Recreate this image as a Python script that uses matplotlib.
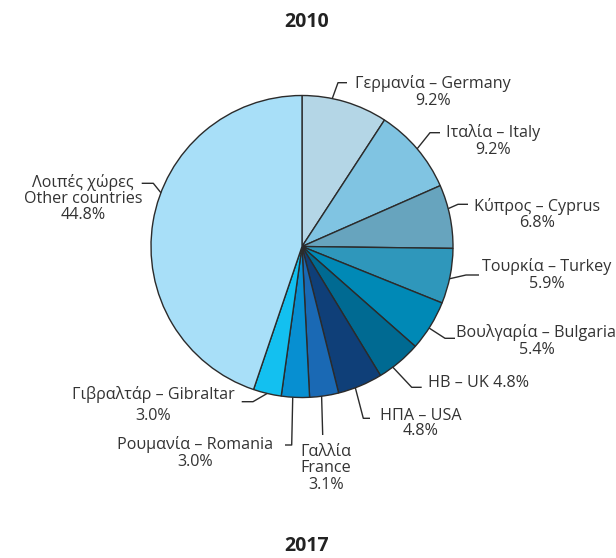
import numpy as np
import matplotlib.pyplot as plt

# data: export shares 2010 (%), clockwise from 12 o'clock
labels = ["Γερμανία – Germany\n9.2%", "Ιταλία – Italy\n9.2%", "Κύπρος – Cyprus\n6.8%",
          "Τουρκία – Turkey\n5.9%", "Βουλγαρία – Bulgaria\n5.4%", "HB – UK 4.8%",
          "ΗΠΑ – USA\n4.8%", "Γαλλία\nFrance\n3.1%", "Ρουμανία – Romania\n3.0%",
          "Γιβραλτάρ – Gibraltar\n3.0%", "Λοιπές χώρες\nOther countries\n44.8%"]
shares = [9.2, 9.2, 6.8, 5.9, 5.4, 4.8, 4.8, 3.1, 3.0, 3.0, 44.8]
colors = ["#b4d6e6", "#80c4e2", "#67a4be", "#2f97bb", "#0089b6", "#006a92",
          "#0f3f78", "#1a69b4", "#078fd1", "#13c0f0", "#a8dff8"]

W, H = 616, 558
plt.rcParams['font.family'] = ['Open Sans', 'DejaVu Sans']
txt_col = "#333333"

fig = plt.figure(figsize=(W / 100, H / 100), dpi=100)
ax = fig.add_axes([0, 0, 1, 1])

cx, cy, r = 302, H - 246.5, 151
wedges, _ = ax.pie(shares, colors=colors, startangle=90, counterclock=False,
                   center=(cx, cy), radius=r, frame=True,
                   wedgeprops=dict(edgecolor="#2b2b2b", linewidth=1.0))
ax.set_xlim(0, W)
ax.set_ylim(0, H)
ax.axis('off')

# layout (image pixel coords, y down): angle tweak, elbow, line end, text centre, line spacing
layout = [
    (5,   (338, 82.7),  (347, 82.7),  (433, 92),   1.1),
    (0,   (430, 132.7), (440, 132.7), (493, 141),  1.05),
    (3,   (458, 204.3), (468, 204.3), (537, 214.5), 0.98),
    (-1,  (466, 275),   (479, 275),   (547, 275),  1.12),
    (-1,  (445, 338.3), (455, 338.3), (536.5, 341), 1.05),
    (-3,  (411.7, 387.3), (421.7, 387.3), (479, 383), 1.05),
    (-2,  (363.3, 418.3), (370, 418.3), (421, 423.5), 0.98),
    (-1,  (322.7, 435), (322.7, 435), (326, 468.3), 1.05),
    (-1,  (291.7, 445), (285, 445),   (195, 453),  1.1),
    (0,   (253, 401.7), (241.7, 401.7), (153, 405), 1.35),
    (-11.5, (153.3, 183.3), (141.7, 183.3), (83, 198.3), 1.0),
]

for w, lab, (dth, elb, end, tc, ls) in zip(wedges, labels, layout):
    ang = np.radians((w.theta1 + w.theta2) / 2 + dth)
    x0 = cx + r * np.cos(ang)
    y0 = cy + r * np.sin(ang)
    ax.plot([x0, elb[0], end[0]], [y0, H - elb[1], H - end[1]],
            color="#2b2b2b", lw=1.0, solid_capstyle='butt')
    ax.text(tc[0], H - tc[1], lab, ha='center', va='center', fontsize=11.6,
            color=txt_col, linespacing=ls, multialignment='center')

ax.text(306.5, H - 21.7, "2010", ha='center', va='center', fontsize=14,
        fontweight='bold', color="#222222")
# reference shows the next chart's title cut at the bottom edge; keep it just inside
ax.text(306.5, H - 546, "2017", ha='center', va='center', fontsize=14,
        fontweight='bold', color="#222222")

fig.savefig("out.png", dpi=100, facecolor="white")
